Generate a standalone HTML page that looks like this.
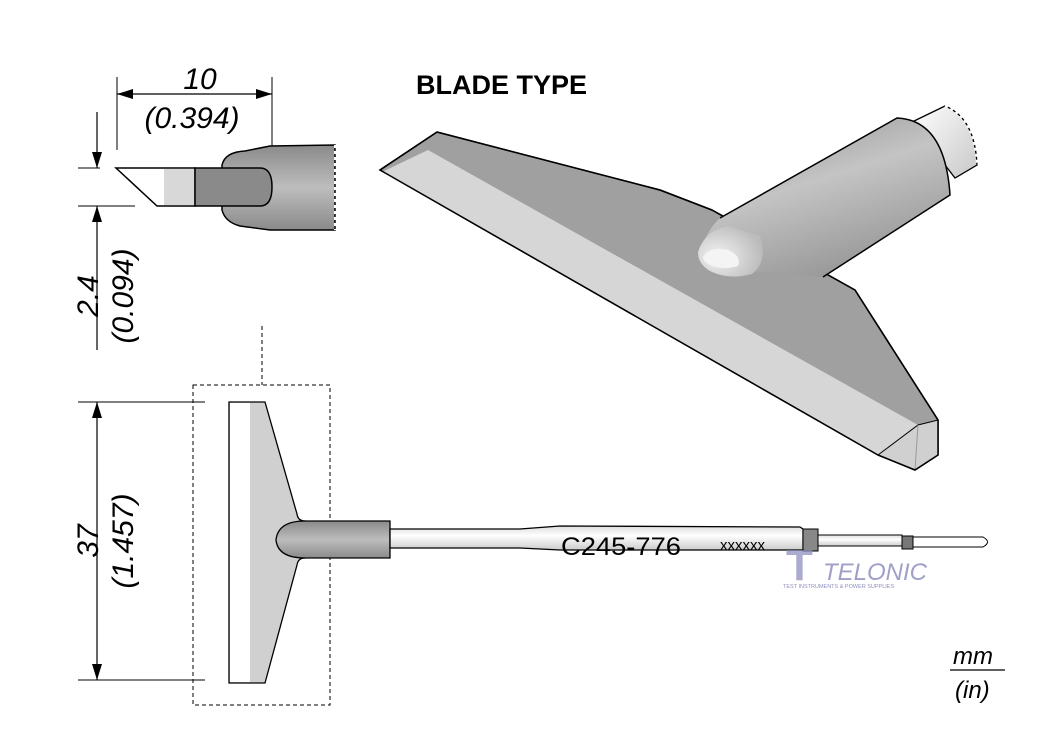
<!DOCTYPE html>
<html><head><meta charset="utf-8"><style>
html,body{margin:0;padding:0;background:#fff;}
svg{display:block;}
text{font-family:"Liberation Sans",sans-serif;}
</style></head><body>
<svg width="1050" height="742" viewBox="0 0 1050 742" xmlns="http://www.w3.org/2000/svg">
<defs>
<linearGradient id="body" x1="0" y1="0" x2="0" y2="1"><stop offset="0" stop-color="#8a8a8a"/><stop offset="0.5" stop-color="#bdbdbd"/><stop offset="1" stop-color="#8a8a8a"/></linearGradient>
<linearGradient id="cyl" x1="0" y1="0" x2="0.5" y2="1"><stop offset="0" stop-color="#8f8f8f"/><stop offset="0.5" stop-color="#c4c4c4"/><stop offset="1" stop-color="#999"/></linearGradient>
<linearGradient id="shaft" x1="0" y1="0" x2="0" y2="1"><stop offset="0" stop-color="#ddd"/><stop offset="0.4" stop-color="#fff"/><stop offset="1" stop-color="#ccc"/></linearGradient>
<linearGradient id="small" x1="0" y1="0" x2="1" y2="1"><stop offset="0" stop-color="#fff"/><stop offset="1" stop-color="#c8c8c8"/></linearGradient>
<radialGradient id="nose" cx="0.3" cy="0.6" r="0.7"><stop offset="0" stop-color="#f2f2f2"/><stop offset="1" stop-color="#bbb"/></radialGradient>
</defs>

<!-- top-left dims -->
<line x1="117" y1="77" x2="117" y2="150" stroke="#000" stroke-width="1"/>
<line x1="272" y1="77" x2="272" y2="160" stroke="#000" stroke-width="1"/>
<line x1="117" y1="94" x2="272" y2="94" stroke="#000" stroke-width="1.2"/>
<path d="M117,94 l16,-5 v10z M272,94 l-16,-5 v10z" fill="#000"/>
<text x="200" y="89" font-size="30" font-style="italic" text-anchor="middle">10</text>
<text x="192" y="128" font-size="30" font-style="italic" text-anchor="middle">(0.394)</text>

<line x1="97" y1="112" x2="97" y2="168" stroke="#000" stroke-width="1.2"/>
<path d="M97,168 l-5,-16 h10z" fill="#000"/>
<line x1="78" y1="168" x2="100" y2="168" stroke="#000"/>
<line x1="78" y1="206" x2="135" y2="206" stroke="#000"/>
<line x1="97" y1="206" x2="97" y2="350" stroke="#000" stroke-width="1.2"/>
<path d="M97,206 l-5,16 h10z" fill="#000"/>
<text transform="translate(98,296) rotate(-90)" font-size="30" font-style="italic" text-anchor="middle">2.4</text>
<text transform="translate(133,296) rotate(-90)" font-size="30" font-style="italic" text-anchor="middle">(0.094)</text>

<!-- side view tip -->
<path d="M222,165 Q225,152 245,151 L270,146 L335,145 L335,230 L270,230 L240,226 Q225,222 222,210 Z" fill="url(#body)" stroke="#000" stroke-width="1.5"/>
<line x1="335" y1="145" x2="335" y2="230" stroke="#fff" stroke-width="2" stroke-dasharray="3,3"/>
<path d="M116,168 L195,168 L195,206 L157,206 Z" fill="#fff" stroke="#000" stroke-width="1.5"/>
<rect x="164" y="169" width="30" height="36" fill="#d8d8d8"/>
<path d="M195,168 L260,168 Q272,168 272,187 Q272,206 260,206 L195,206 Z" fill="#8a8a8a" stroke="#000" stroke-width="1.5"/>

<line x1="262" y1="326" x2="262" y2="385" stroke="#000" stroke-dasharray="4,3"/>

<!-- BLADE TYPE -->
<text x="416" y="94" font-size="27" font-weight="bold">BLADE TYPE</text>

<!-- 3D blade -->
<path d="M380,170 L437,132 L660,190 L712,210 L855,290 L938,420 L938,455 L915,470 L878,455 Z" fill="#a0a0a0" stroke="#000" stroke-width="1.5" stroke-linejoin="round"/>
<path d="M382,172 L428,150 L918,425 L878,455 Z" fill="#d6d6d6"/>
<path d="M878,455 L918,425 L938,420 L938,455 L915,470 Z" fill="#d0d0d0" stroke="#000" stroke-width="1"/>
<path d="M918,425 L915,470" stroke="#999" stroke-width="1"/>
<path d="M380,170 L878,455 L915,470 L938,455 L938,420 L855,290 L712,210 L660,190 L437,132 Z" fill="none" stroke="#000" stroke-width="1.5"/>
<!-- small cylinder -->
<path d="M912,122 L945,106 Q975,118 977,165 L955,178 Z" fill="url(#small)" stroke="#000" stroke-width="1.3"/>
<path d="M945,106 Q975,118 977,165" fill="none" stroke="#fff" stroke-width="2" stroke-dasharray="3,3"/>
<!-- big cylinder -->
<path d="M720,218 L897,118 Q945,120 950,195 L823,277 L770,272 Q720,275 700,255 Q705,232 720,218 Z" fill="url(#cyl)"/>
<path d="M720,218 L897,118 Q945,120 950,195 L823,277" fill="none" stroke="#000" stroke-width="1.5"/>
<path d="M698,252 Q705,230 728,226 L760,236 Q768,262 752,274 Q730,280 712,272 Q698,265 698,252 Z" fill="url(#nose)"/>
<path d="M703,257 Q710,246 728,250 Q742,256 738,266 Q725,270 712,266 Q703,262 703,257 Z" fill="#f4f4f4"/>

<!-- bottom view -->
<rect x="193" y="385" width="137" height="320" fill="none" stroke="#000" stroke-dasharray="4,3"/>
<line x1="78" y1="402" x2="205" y2="402" stroke="#000"/>
<line x1="78" y1="680" x2="205" y2="680" stroke="#000"/>
<line x1="97" y1="402" x2="97" y2="680" stroke="#000" stroke-width="1.2"/>
<path d="M97,402 l-5,16 h10z M97,680 l-5,-16 h10z" fill="#000"/>
<text transform="translate(98,541) rotate(-90)" font-size="30" font-style="italic" text-anchor="middle">37</text>
<text transform="translate(133,541) rotate(-90)" font-size="30" font-style="italic" text-anchor="middle">(1.457)</text>

<path d="M229,402 L265,402 L297,514 Q298,521 305,521 L305,558 Q298,558 297,565 L265,683 L229,683 Z" fill="#d0d0d0" stroke="#000" stroke-width="1.3"/>
<rect x="230" y="403" width="20" height="279" fill="#fff"/>
<path d="M305,521 L390,521 L390,558 L305,558 Q278,558 276,540 Q278,521 305,521 Z" fill="url(#body)" stroke="#000" stroke-width="1.3"/>
<path d="M390,529 L520,529 L560,526 L800,527 L803,529 L803,550 L560,550 L520,548 L390,548 Z" fill="url(#shaft)" stroke="#000" stroke-width="1.3"/>
<text x="561" y="555" font-size="25" textLength="120" lengthAdjust="spacingAndGlyphs">C245-776</text>
<text x="720" y="550" font-size="15">xxxxxx</text>
<rect x="803" y="529" width="15" height="22" fill="#888" stroke="#000"/>
<rect x="818" y="535" width="84" height="11" fill="url(#shaft)" stroke="#000"/>
<rect x="902" y="536" width="11" height="13" fill="#777" stroke="#000"/>
<path d="M913,537 L983,537 Q992,542 983,547 L913,547 Z" fill="#fff" stroke="#000"/>

<!-- watermark -->
<text x="786" y="580" font-size="44" font-weight="bold" fill="#8f8fbf" opacity="0.75" font-family="Liberation Serif">T</text>
<text x="823" y="580" font-size="24" font-style="italic" fill="#8f8fbf" opacity="0.85">TELONIC</text>
<text x="783" y="588" font-size="5.5" fill="#8f8fbf">TEST INSTRUMENTS &amp; POWER SUPPLIES</text>

<!-- units -->
<text x="953" y="664" font-size="24" font-style="italic">mm</text>
<line x1="950" y1="670" x2="1005" y2="670" stroke="#000" stroke-width="1.3"/>
<text x="955" y="698" font-size="24" font-style="italic">(in)</text>
</svg>
</body></html>
